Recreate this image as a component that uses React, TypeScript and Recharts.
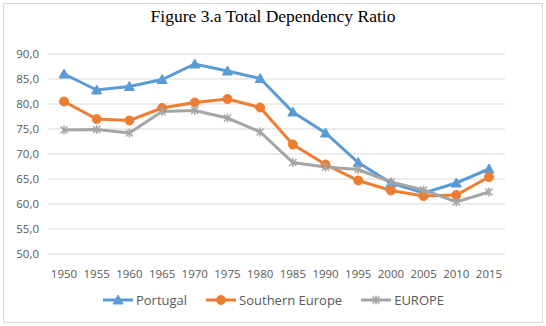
import { LineChart, Line, XAxis, YAxis, CartesianGrid } from 'recharts';

const years = ['1950', '1955', '1960', '1965', '1970', '1975', '1980', '1985', '1990', '1995', '2000', '2005', '2010', '2015'];
const portugal = [86.0, 82.8, 83.5, 84.9, 88.0, 86.6, 85.1, 78.4, 74.2, 68.3, 64.2, 62.2, 64.2, 67.0];
const southernEurope = [80.5, 77.0, 76.7, 79.2, 80.3, 81.0, 79.3, 71.9, 67.9, 64.7, 62.7, 61.6, 61.8, 65.4];
const europe = [74.8, 74.9, 74.2, 78.5, 78.7, 77.2, 74.4, 68.3, 67.4, 66.9, 64.4, 62.8, 60.4, 62.4];
const yTicks = [50, 55, 60, 65, 70, 75, 80, 85, 90];

const data = years.map((year, i) => ({
  year,
  portugal: portugal[i],
  southern: southernEurope[i],
  europe: europe[i],
}));

const BLUE = '#5B9BD5';
const ORANGE = '#ED7D31';
const GREY = '#A5A5A5';
const TEXT = '#595959';
const FONT = '"Open Sans", sans-serif';

function Marker({ kind, cx, cy, color }: { kind: string; cx: number; cy: number; color: string }) {
  if (kind === 'triangle') {
    const s = 5;
    return <path d={`M${cx},${cy - s} L${cx + s},${cy + s * 0.8} L${cx - s},${cy + s * 0.8} Z`} fill={color} stroke={color} strokeWidth={1} />;
  }
  if (kind === 'circle') {
    return <circle cx={cx} cy={cy} r={4.5} fill={color} stroke={color} />;
  }
  const s = 3.5;
  return (
    <g stroke={color} strokeWidth={1.5}>
      <line x1={cx - s} y1={cy - s} x2={cx + s} y2={cy + s} />
      <line x1={cx - s} y1={cy + s} x2={cx + s} y2={cy - s} />
      <line x1={cx} y1={cy - s - 1} x2={cx} y2={cy + s + 1} />
    </g>
  );
}

const series = [
  { key: 'portugal', name: 'Portugal', color: BLUE, marker: 'triangle' },
  { key: 'southern', name: 'Southern Europe', color: ORANGE, marker: 'circle' },
  { key: 'europe', name: 'EUROPE', color: GREY, marker: 'star' },
];

function LegendBox() {
  return (
    <div style={{ position: 'absolute', top: 291, left: 0, width: 546, display: 'flex', justifyContent: 'center', gap: 18, fontFamily: FONT, fontSize: 13, color: TEXT }}>
      {series.map((s) => (
        <div key={s.key} style={{ display: 'flex', alignItems: 'center' }}>
          <svg width={32} height={14}>
            <line x1={1} y1={7} x2={31} y2={7} stroke={s.color} strokeWidth={3} />
            <Marker kind={s.marker} cx={16} cy={7} color={s.color} />
          </svg>
          <span style={{ marginLeft: 2 }}>{s.name}</span>
        </div>
      ))}
    </div>
  );
}

export default function App() {
  return (
    <div style={{ position: 'relative', width: 546, height: 326, background: '#fff' }}>
      <style>{'body{margin:0}'}</style>
      <div style={{ position: 'absolute', left: 3, top: 3, width: 538, height: 318, border: '1px solid #d9d9d9' }} />
      <div style={{ position: 'absolute', top: 6, width: 546, textAlign: 'center', fontFamily: '"Liberation Serif", "Times New Roman", serif', fontSize: 17.5, color: '#000' }}>
        Figure 3.a Total Dependency Ratio
      </div>
      <div style={{ position: 'absolute', left: 0, top: 0 }}>
        <LineChart width={546} height={326} data={data} margin={{ top: 54, right: 41, bottom: 42, left: 0 }}>
          <CartesianGrid vertical={false} stroke="#d9d9d9" />
          <XAxis
            dataKey="year"
            axisLine={false}
            tickLine={false}
            tick={{ fontSize: 11.5, fill: TEXT, fontFamily: FONT }}
            tickMargin={10}
            interval={0}
            padding={{ left: 16, right: 16 }}
          />
          <YAxis
            domain={[50, 90]}
            ticks={yTicks}
            axisLine={false}
            tickLine={false}
            width={48}
            tick={{ fontSize: 11.5, fill: TEXT, fontFamily: FONT }}
            tickFormatter={(v: number) => v.toFixed(1).replace('.', ',')}
            tickMargin={3}
          />
          {series.map((s) => (
            <Line
              key={s.key}
              type="linear"
              dataKey={s.key}
              name={s.name}
              stroke={s.color}
              strokeWidth={3}
              isAnimationActive={false}
              dot={(p: any) => <Marker key={`${s.key}-${p.index}`} kind={s.marker} cx={p.cx} cy={p.cy} color={s.color} />}
            />
          ))}
        </LineChart>
      </div>
      <LegendBox />
    </div>
  );
}
